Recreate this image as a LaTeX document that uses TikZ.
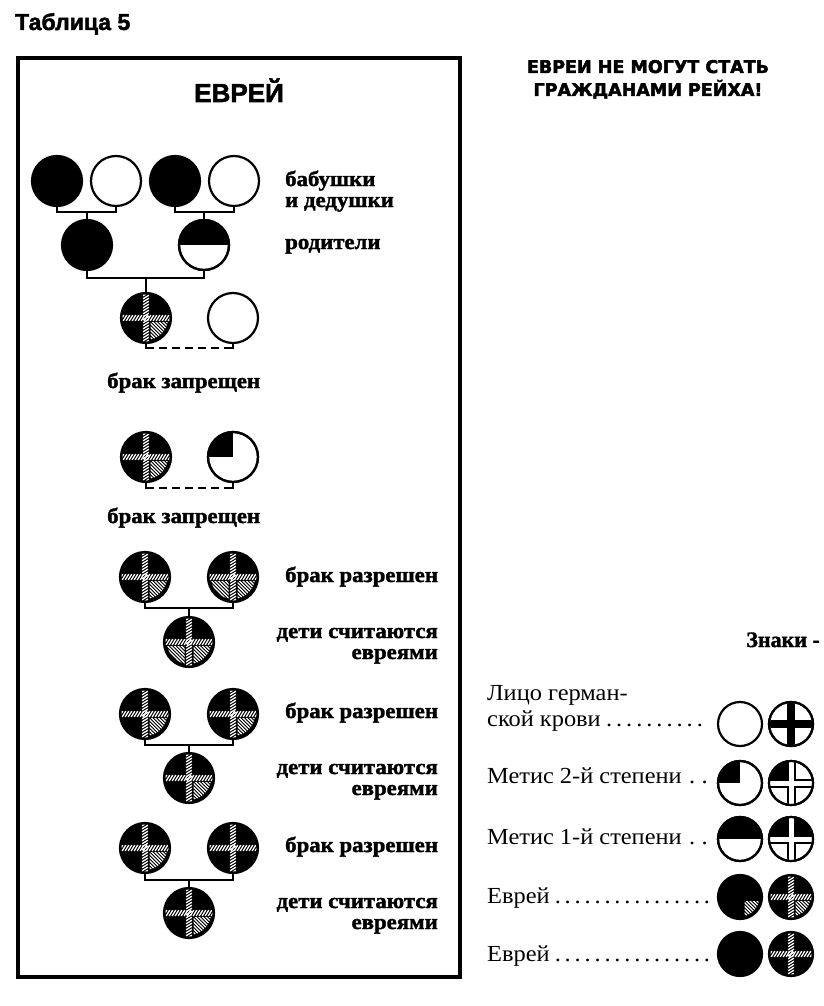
\documentclass[tikz,border=0pt]{standalone}
\usepackage{fontspec}
\setmainfont{Liberation Serif}
\newfontfamily\sansfnt[FakeBold=2]{Liberation Sans}
\newfontfamily\headfnt[FakeBold=2.5]{DejaVu Sans}
\newfontfamily\wideserif[FakeStretch=1.06,FakeBold=1.6]{Liberation Serif}
\newfontfamily\legserif[FakeStretch=1.06]{Liberation Serif}
\newfontfamily\signserif[FakeBold=1.5]{Liberation Serif}
\usetikzlibrary{calc}

\newcommand\legdots{\hskip 3pt\xleaders\hbox to 9.5pt{\hss.\hss}\hfill}

\tikzset{
  conn/.style={line width=2.6pt, line cap=rect},
  dashpat/.style={dash pattern=on 8pt off 5pt, line cap=butt},
  hatchw/.style={white, line width=1.3pt},
  sym/.style={circle, draw, line width=2.2pt, minimum size=50pt, inner sep=0pt, outer sep=0pt, fill=white},
  jsym/.style={sym, fill=black},
  lsym/.style={sym, minimum size=44pt},
  ljsym/.style={lsym, fill=black},
  framelbl/.style={font=\wideserif\bfseries\fontsize{21.5}{21}\selectfont, inner sep=0pt},
  legendlbl/.style={font=\legserif\fontsize{23}{26}\selectfont, inner sep=0pt, anchor=base west, align=left},
}

\newcommand\SymOut[2]{\draw[line width=2.2pt] (#1.center) circle[radius=#2pt];}
\newcommand\SymHC[2]{%
  \begin{scope}[shift={(#1.center)}]
    \clip (0,0) circle[radius=#2pt-1.5pt];
    \foreach \t in {-36,-33,...,36}{
      \draw[hatchw] (\t-1.8,2.9) -- (\t+1.8,-2.9);
      \draw[hatchw] (-2.9,\t+1.8) -- (2.9,\t-1.8);
    }
  \end{scope}}
\newcommand\SymHQ[4]{%
  \begin{scope}[shift={(#1.center)}]
    \clip (0,0) circle[radius=0.88*#2pt];
    \clip (#3*4.5,#4*4.5) rectangle (#3*#2,#4*#2);
    \foreach \c in {-50,-46.5,...,50}{
      \draw[hatchw] (\c-30,-30) -- (\c+30,30);
    }
  \end{scope}}
\newcommand\SymBars[4]{%
  \begin{scope}[shift={(#1.center)}]
    \clip (0,0) circle[radius=#2pt-1pt];
    \fill[#4] (-#3/2,-#2) rectangle (#3/2,#2);
    \fill[#4] (-#2,-#3/2) rectangle (#2,#3/2);
  \end{scope}}
\newcommand\SymTL[2]{%
  \begin{scope}[shift={(#1.center)}]
    \clip (0,0) circle[radius=#2pt];
    \fill (0,0) rectangle (-#2,-#2);
  \end{scope}}
\newcommand\SymTop[2]{%
  \begin{scope}[shift={(#1.center)}]
    \clip (0,0) circle[radius=#2pt];
    \fill (-#2,-#2) rectangle (#2,0);
  \end{scope}}

\begin{document}
\begin{tikzpicture}[x=1pt,y=-1pt]
\useasboundingbox (0,0) rectangle (824,1006);

% titles
\node[font=\sansfnt\bfseries\fontsize{23}{24}\selectfont, inner sep=0pt, anchor=base west] (tab) at (15,30) {Таблица 5};
\draw[line width=4pt] (18,58) rectangle (460,977);
\node[font=\sansfnt\bfseries\fontsize{26}{28}\selectfont, inner sep=0pt, anchor=base] (jew) at (239,102) {ЕВРЕЙ};
\node[font=\headfnt\bfseries\fontsize{17.5}{23}\selectfont, inner sep=0pt, anchor=base, align=center] (head) at (648,96) {ЕВРЕИ НЕ МОГУТ СТАТЬ\\ГРАЖДАНАМИ РЕЙХА!};

% grandparents
\node[jsym] (g1) at (57,181) {};
\node[sym]  (g2) at (116,181) {};
\node[jsym] (g3) at (175,181) {};
\node[sym]  (g4) at (234,181) {};
% parents
\node[jsym] (p1) at (87,245) {};
\node[sym]  (p2) at (204,245) {};
\SymTop{p2}{25}\SymOut{p2}{25}
% row 3
\node[jsym] (c3) at (146,318) {};
\SymHC{c3}{25}\SymHQ{c3}{25}{1}{1}
\node[sym] (w3) at (233,318) {};
% row 4
\node[jsym] (c4) at (146,457) {};
\SymHC{c4}{25}\SymHQ{c4}{25}{1}{1}
\node[sym] (w4) at (233,457) {};
\SymTL{w4}{25}\SymOut{w4}{25}
% row 5
\node[jsym] (a5) at (145,577) {};
\SymHC{a5}{25}\SymHQ{a5}{25}{1}{1}
\node[jsym] (b5) at (233,577) {};
\SymHC{b5}{25}\SymHQ{b5}{25}{1}{1}\SymHQ{b5}{25}{-1}{1}
\node[jsym] (c5) at (189,642) {};
\SymHC{c5}{25}\SymHQ{c5}{25}{1}{1}\SymHQ{c5}{25}{-1}{1}
% row 6
\node[jsym] (a6) at (145,714) {};
\SymHC{a6}{25}\SymHQ{a6}{25}{1}{1}
\node[jsym] (b6) at (233,714) {};
\SymHC{b6}{25}\SymHQ{b6}{25}{1}{1}
\node[jsym] (c6) at (189,778) {};
\SymHC{c6}{25}\SymHQ{c6}{25}{1}{1}
% row 7
\node[jsym] (a7) at (145,848) {};
\SymHC{a7}{25}\SymHQ{a7}{25}{1}{1}
\node[jsym] (b7) at (233,848) {};
\SymHC{b7}{25}
\node[jsym] (c7) at (189,913) {};
\SymHC{c7}{25}\SymHQ{c7}{25}{1}{1}

% connectors
\draw[conn] (g1.south) -- ++(0,6) coordinate (j1) -| (g2.south);
\draw[conn] (p1.north) -- (p1.north |- j1);
\draw[conn] (g3.south) -- ++(0,6) coordinate (j2) -| (g4.south);
\draw[conn] (p2.north) -- (p2.north |- j2);
\draw[conn] (p1.south) -- ++(0,8) coordinate (j3) -| (p2.south);
\draw[conn] (c3.north) -- (c3.north |- j3);
\draw[conn] (c3.south) -- ++(0,5) coordinate (d3);
\draw[conn,dashpat] (d3) -- (d3 -| w3.south) coordinate (e3);
\draw[conn] (e3) -- (w3.south);
\draw[conn] (c4.south) -- ++(0,6) coordinate (d4);
\draw[conn,dashpat] (d4) -- (d4 -| w4.south) coordinate (e4);
\draw[conn] (e4) -- (w4.south);
\draw[conn] (a5.south) -- ++(0,6) coordinate (j5) -| (b5.south);
\draw[conn] (c5.north) -- (c5.north |- j5);
\draw[conn] (a6.south) -- ++(0,6) coordinate (j6) -| (b6.south);
\draw[conn] (c6.north) -- (c6.north |- j6);
\draw[conn] (a7.south) -- ++(0,7) coordinate (j7) -| (b7.south);
\draw[conn] (c7.north) -- (c7.north |- j7);

% frame labels
\node[framelbl, anchor=base west, align=left] (lgp) at (285,207) {бабушки\\и дедушки};
\node[framelbl, anchor=base west] (lpar) at (285,249) {родители};
\node[framelbl, anchor=base west] (lf1) at (107,388) {брак запрещен};
\node[framelbl, anchor=base west] (lf2) at (107,523) {брак запрещен};
\node[framelbl, anchor=base west] (la5) at (285,582) {брак разрешен};
\node[framelbl, anchor=base east, align=right] (lc5) at (438,659) {дети считаются\\евреями};
\node[framelbl, anchor=base west] (la6) at (285,718) {брак разрешен};
\node[framelbl, anchor=base east, align=right] (lc6) at (438,795) {дети считаются\\евреями};
\node[framelbl, anchor=base west] (la7) at (285,852) {брак разрешен};
\node[framelbl, anchor=base east, align=right] (lc7) at (438,929) {дети считаются\\евреями};

% legend
\node[font=\signserif\bfseries\fontsize{22}{24}\selectfont, inner sep=0pt, anchor=base east] (signs) at (820,647) {Знаки -};
\node[legendlbl] (k1) at (487,726) {Лицо герман-\\\hbox to 218pt{ской крови\legdots}};
\node[legendlbl] (k2) at (487,783) {\hbox to 225pt{Метис 2-й степени\legdots}};
\node[legendlbl] (k3) at (487,844) {\hbox to 225pt{Метис 1-й степени\legdots}};
\node[legendlbl] (k4) at (487,903) {\hbox to 225pt{Еврей\legdots}};
\node[legendlbl] (k5) at (487,961) {\hbox to 225pt{Еврей\legdots}};

\node[lsym] (l1a) at (740,724) {};
\node[lsym] (l1b) at (791,724) {};
\SymBars{l1b}{22}{8}{black}\SymOut{l1b}{22}
\node[lsym] (l2a) at (740,783) {};
\SymTL{l2a}{22}\SymOut{l2a}{22}
\node[lsym] (l2b) at (791,783) {};
\SymTL{l2b}{22}\SymBars{l2b}{22}{9}{black}\SymBars{l2b}{22}{5}{white}\SymOut{l2b}{22}
\node[lsym] (l3a) at (740,839) {};
\SymTop{l3a}{22}\SymOut{l3a}{22}
\node[lsym] (l3b) at (791,839) {};
\SymTop{l3b}{22}\SymBars{l3b}{22}{9}{black}\SymBars{l3b}{22}{5}{white}\SymOut{l3b}{22}
\node[ljsym] (l4a) at (740,897) {};
\SymHQ{l4a}{22}{1}{1}
\node[ljsym] (l4b) at (791,897) {};
\SymHC{l4b}{22}\SymHQ{l4b}{22}{1}{1}
\node[ljsym] (l5a) at (740,954) {};
\node[ljsym] (l5b) at (791,954) {};
\SymHC{l5b}{22}
\end{tikzpicture}
\end{document}
